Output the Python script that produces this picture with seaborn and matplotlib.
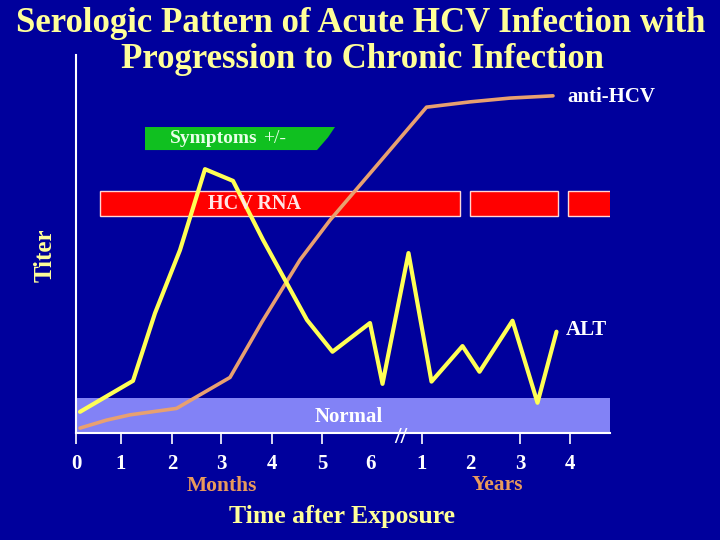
import matplotlib
matplotlib.use("Agg")
import matplotlib.pyplot as plt
import numpy as np
import pandas as pd
import seaborn as sns

# ---------------------------------------------------------------------
# Data (x in axis position units, y in relative titer 0-100)
# ---------------------------------------------------------------------
alt_x = [0.08, 1.14, 1.58, 2.08, 2.58, 3.14, 3.74, 4.62, 5.13, 5.88, 6.13,
         6.65, 7.11, 7.73, 8.07, 8.73, 9.23, 9.61]
alt_y = [5.6, 13.8, 31.7, 48.4, 69.8, 66.7, 51.1, 29.9, 21.5, 29.1, 13.0,
         47.6, 13.6, 23.0, 16.2, 29.7, 8.0, 26.8]

anti_x = [0.08, 0.61, 1.08, 2.01, 3.08, 3.72, 4.48, 5.08, 5.94, 7.01, 7.88,
          8.68, 9.54]
anti_y = [1.3, 3.4, 4.8, 6.5, 14.7, 29.4, 45.8, 56.3, 69.6, 86.2, 87.6,
          88.6, 89.2]

tick_pos = [0, 0.9, 1.92, 2.9, 3.92, 4.92, 5.88, 6.92, 7.88, 8.88, 9.88]
tick_labels = ["0", "1", "2", "3", "4", "5", "6", "1", "2", "3", "4"]
hidden_ticks = [6, 8]

rna_start = [0.47, 7.88, 9.83]
rna_end = [7.67, 9.63, 10.69]
rna_y = 60.6
rna_h = 6.6

sym_start = 1.38
sym_end = 5.18
sym_y = 77.9
sym_h = 6.1

normal_top = 9.3

bg = "#00009c"
yellow = "#ffff99"

sns.set_theme(style="dark", rc={"axes.facecolor": bg, "figure.facecolor": bg})
plt.rcParams["font.family"] = ["Liberation Serif", "DejaVu Serif"]

fig = plt.figure(figsize=(7.2, 5.4), dpi=100)
ax = fig.add_axes([76 / 720, 1 - 433 / 540, 534 / 720, 378 / 540])
ax.set_facecolor(bg)

# Normal range band
ax.axhspan(0, normal_top, color="#8282f6", zorder=1, lw=0)

# HCV RNA bars
ax.barh([rna_y] * len(rna_start), np.subtract(rna_end, rna_start), left=rna_start,
        height=rna_h, color="#ff0000", edgecolor="#ffd6d6", linewidth=1, zorder=2)

# Symptoms bar with ragged right edge
yt, yb = sym_y + sym_h / 2, sym_y - sym_h / 2
ax.fill([sym_start, sym_start, sym_end, sym_end - 0.14, sym_end - 0.2, sym_end - 0.36],
        [yb, yt, yt, yt - sym_h * 0.45, yt - sym_h * 0.6, yb],
        color="#10c020", lw=0, zorder=2)

# Curves
df_alt = pd.DataFrame({"x": alt_x, "y": alt_y})
df_anti = pd.DataFrame({"x": anti_x, "y": anti_y})
sns.lineplot(data=df_anti, x="x", y="y", ax=ax, color="#e8a070", lw=2.6, zorder=3, sort=False)
sns.lineplot(data=df_alt, x="x", y="y", ax=ax, color="#ffff55", lw=3.0, zorder=4, sort=False)

# Labels inside the plot
bold = dict(fontweight="bold", fontsize=15)
ax.text(9.82, 88.9, "anti-HCV", color="white", va="center", ha="left", **bold)
ax.text(9.8, 27.2, "ALT", color="white", va="center", ha="left", **bold)
ax.text(4.78, 4.2, "Normal", color="white", va="center", ha="left", zorder=5, **bold)
ax.text(2.64, rna_y, "HCV RNA", color="#ffe6e6", va="center", ha="left", zorder=5,
        fontweight="bold", fontsize=14.5)
ax.text(1.88, sym_y, "Symptoms", color="#e8ffe8", va="center", ha="left", fontsize=14,
        fontweight="bold", zorder=5)
ax.text(3.74, sym_y, "+/-", color="#e8ffe8", va="center", ha="left", fontsize=14, zorder=5)

# Axis break mark
ax.text(6.5, -1.2, "//", color="white", fontsize=17, ha="center", va="center",
        fontweight="bold", clip_on=False, zorder=6)

ax.set_xlim(0, 10.68)
ax.set_ylim(0, 100)
ax.set_xticks(tick_pos)
ax.set_xticklabels(tick_labels)
ax.set_yticks([])
ax.set_xlabel("")
ax.set_ylabel("")
ax.tick_params(axis="x", colors="white", length=8, width=1.2, direction="out",
               pad=7, labelsize=15, bottom=True)
for lab in ax.get_xticklabels():
    lab.set_fontweight("bold")
for i in hidden_ticks:
    ax.xaxis.get_major_ticks()[i].tick1line.set_visible(False)
for side in ["top", "right"]:
    ax.spines[side].set_visible(False)
for side in ["left", "bottom"]:
    ax.spines[side].set_color("white")
    ax.spines[side].set_linewidth(1.5)
ax.grid(False)

# Titles and axis captions
fig.text(361 / 720, 1 - 23 / 540, "Serologic Pattern of Acute HCV Infection with",
         color=yellow, fontsize=25, fontweight="bold", ha="center", va="center")
fig.text(362 / 720, 1 - 60 / 540, "Progression to Chronic Infection",
         color=yellow, fontsize=25, fontweight="bold", ha="center", va="center")
fig.text(222 / 720, 1 - 486 / 540, "Months", color="#e89a5c", fontsize=15.5,
         fontweight="bold", ha="center", va="center")
fig.text(497 / 720, 1 - 485 / 540, "Years", color="#e89a5c", fontsize=15.5,
         fontweight="bold", ha="center", va="center")
fig.text(342 / 720, 1 - 516 / 540, "Time after Exposure", color=yellow, fontsize=18.5,
         fontweight="bold", ha="center", va="center")
fig.text(45 / 720, 1 - 255 / 540, "Titer", color=yellow, fontsize=18,
         fontweight="bold", ha="center", va="center", rotation=90)

fig.savefig("out.png", dpi=100, facecolor=bg)
